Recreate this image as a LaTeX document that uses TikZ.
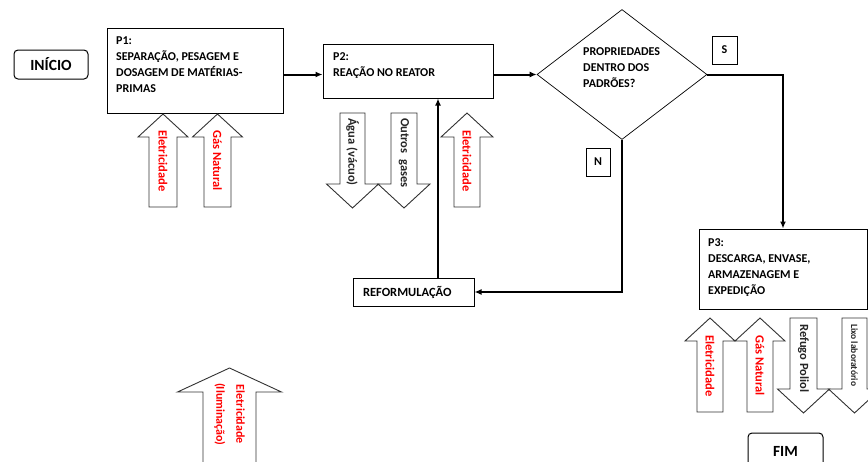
\documentclass[tikz,border=0pt]{standalone}
\usepackage{fontspec}
\setmainfont{Carlito}
\usetikzlibrary{arrows.meta,shapes.geometric}

% seta larga: x centro, y ponta aberta, y base da cabeca, y ponta, meia haste, meia cabeca
\newcommand{\blockarr}[6]{%
  \draw[blk] ({#1-#5},#2) -- ({#1-#5},#3) -- ({#1-#6},#3) -- (#1,#4)
    -- ({#1+#6},#3) -- ({#1+#5},#3) -- ({#1+#5},#2) -- cycle;}

\begin{document}
\begin{tikzpicture}[x=1pt,y=-1pt,>={Latex[length=7pt,width=6pt]},
    box/.style={draw,line width=1pt,inner sep=0pt},
    ptext/.style={anchor=north west,inner sep=0pt,align=left,font=\fontsize{12}{16}\selectfont\bfseries},
    flow/.style={line width=2pt,->},
    blk/.style={draw=black!80,line width=0.9pt,fill=white},
    lbl/.style={rotate=-90,anchor=west,inner sep=0pt,font=\fontsize{12.5}{13}\selectfont\bfseries},
    inp/.style={lbl,text=red},
    outp/.style={lbl,text=black!85}]
  \useasboundingbox (0,0) rectangle (868,461);
  \clip (0,0) rectangle (868,461);

  % inicio e fim
  \node[box,rounded corners=4pt,minimum width=74pt,minimum height=29pt,
        font=\fontsize{15.5}{17}\selectfont\bfseries] (inicio) at (51,64.5) {INÍCIO};
  \node[box,rounded corners=4pt,minimum width=75pt,minimum height=36pt,
        font=\fontsize{15.5}{17}\selectfont\bfseries] (fim) at (785.5,451) {FIM};

  % etapas
  \node[box,minimum width=176pt,minimum height=85pt] (p1) at (195,71) {};
  \node[ptext] at (116,37) {P1:\\SEPARAÇÃO, PESAGEM E\\DOSAGEM DE MATÉRIAS-\\PRIMAS};
  \node[box,minimum width=170pt,minimum height=54pt] (p2) at (408,71) {};
  \node[ptext] at (333,52) {P2:\\REAÇÃO NO REATOR};
  \node[box,minimum width=168pt,minimum height=80pt] (p3) at (783,269) {};
  \node[ptext] at (708,238) {P3:\\DESCARGA, ENVASE,\\ARMAZENAGEM E\\EXPEDIÇÃO};
  \node[draw,diamond,line width=0.7pt,minimum width=170pt,minimum height=130pt,
        inner sep=0pt] (dec) at (622,74.5) {};
  \node[ptext] at (583,47) {PROPRIEDADES\\DENTRO DOS\\PADRÕES?};
  \node[box,text width=101pt,inner xsep=10pt,minimum height=28pt,align=left,
        font=\fontsize{12.5}{16}\selectfont\bfseries] (reform) at (413.5,292) {REFORMULAÇÃO};
  \node[box,minimum width=25pt,minimum height=28pt,font=\fontsize{12}{14}\selectfont\bfseries] (sim) at (724.5,50) {S};
  \node[box,minimum width=24pt,minimum height=28pt,font=\fontsize{12}{14}\selectfont\bfseries] (nao) at (598,162) {N};

  % fluxo
  \coordinate (fb) at (438,0);
  \draw[flow] (p1.east |- dec.west) -- (p2.west |- dec.west);
  \draw[flow] (p2.east |- dec.west) -- (dec.west);
  \draw[flow] (dec.east) -| (p3.north);
  \draw[flow] (dec.south) |- (reform.east);
  \draw[flow] (reform.north -| fb) -- (p2.south -| fb);

  % entradas e saidas
  \blockarr{163}{207}{137}{114}{14}{25}
  \blockarr{217.5}{207}{137}{114}{13.5}{25}
  \blockarr{352.5}{113}{184}{208}{12.5}{26}
  \blockarr{404}{113}{184}{208}{13}{26}
  \blockarr{467}{207}{137}{113}{13}{26}
  \blockarr{710}{412}{341}{318}{13}{25}
  \blockarr{760}{412}{341}{318}{13}{25}
  \blockarr{803.5}{318}{389}{413}{13.5}{26}
  \blockarr{854.5}{318}{389}{413}{12.5}{26}
  \blockarr{229.5}{480}{392}{368}{26.5}{52}

  \node[inp] at (163,130) {Eletricidade};
  \node[inp] at (217.5,130) {Gás Natural};
  \node[outp] at (352.5,118) {Água (vácuo)};
  \node[outp] at (404,118) {Outros\ \ gases};
  \node[inp] at (467,130) {Eletricidade};
  \node[inp] at (710,335) {Eletricidade};
  \node[inp] at (760,335) {Gás Natural};
  \node[outp] at (803.5,324) {Refugo Poliol};
  \node[outp,font=\fontsize{9.5}{11}\selectfont\bfseries] at (854.5,324) {Lixo laboratório};
  \node[inp,align=center,font=\fontsize{12}{20}\selectfont\bfseries] at (229.5,383) {Eletricidade\\(Iluminação)};
\end{tikzpicture}
\end{document}
